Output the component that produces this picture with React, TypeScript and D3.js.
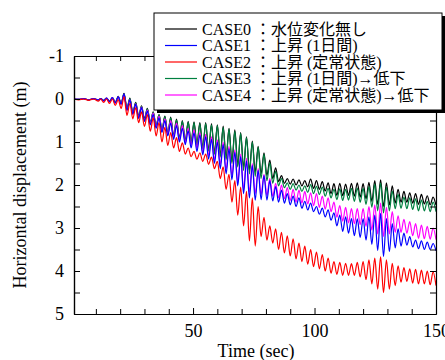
import { useEffect, useRef } from "react";
import * as d3 from "d3";

const W = 445;
const H = 360;
const box = { left: 74, right: 436, top: 56, bottom: 314 };

// extremes of the oscillation (sec), shared by all cases
const timeSec = [
  1, 3, 5, 7, 9, 11,
  12.0, 13.2, 14.4, 15.6, 16.8, 18.0, 19.2, 20.4, 21.6, 22.8,
  24.0, 25.2, 26.4, 27.6, 28.8, 30.0, 31.2, 32.4, 33.6, 34.8,
  36.0, 37.2, 38.4, 39.6, 40.8, 42.0, 43.2, 44.4, 45.6, 46.8,
  48.0, 49.2, 50.4, 51.6, 52.8, 54.0, 55.2, 56.4, 57.6, 58.8,
  60.0, 61.2, 62.4, 63.6, 64.8, 66.0, 67.2, 68.4, 69.6, 70.8,
  72.0, 73.2, 74.4, 75.6, 76.8, 78.0, 79.2, 80.4, 81.6, 82.8,
  84.0, 85.2, 86.4, 87.6, 88.8, 90.0, 91.2, 92.4, 93.6, 94.8,
  96.0, 97.2, 98.4, 99.6, 100.8, 102.0, 103.2, 104.4, 105.6, 106.8,
  108.0, 109.2, 110.4, 111.6, 112.8, 114.0, 115.2, 116.4, 117.6, 118.8,
  120.0, 121.2, 122.4, 123.6, 124.8, 126.0, 127.2, 128.4, 129.6, 130.8,
  132.0, 133.2, 134.4, 135.6, 136.8, 138.0, 139.2, 140.4, 141.6, 142.8,
  144.0, 145.2, 146.4, 147.6, 148.8, 150.0,
];

const case0 = [
  0, 0.01, -0.01, 0.02, -0.01, 0.02,
  -0.01, 0.03, -0.02, 0.05, -0.03, 0.08, -0.06, 0.1, -0.13, 0.22,
  -0.02, 0.32, 0.08, 0.4, 0.16, 0.46, 0.22, 0.55, 0.3, 0.62,
  0.36, 0.72, 0.4, 0.8, 0.42, 0.86, 0.47, 0.92, 0.5, 0.98,
  0.52, 1.02, 0.53, 1.07, 0.55, 1.14, 0.55, 1.2, 0.57, 1.26,
  0.6, 1.32, 0.63, 1.38, 0.68, 1.46, 0.72, 1.54, 0.78, 1.6,
  0.88, 1.66, 0.98, 1.7, 1.1, 1.74, 1.25, 1.78, 1.42, 1.85,
  1.6, 1.92, 1.78, 1.96, 1.85, 1.98, 1.86, 2.0, 1.88, 2.02,
  1.9, 2.04, 1.86, 2.08, 1.9, 2.1, 1.92, 2.14, 1.95, 2.2,
  1.97, 2.24, 1.96, 2.25, 1.98, 2.24, 1.96, 2.26, 1.95, 2.28,
  1.97, 2.32, 1.94, 2.38, 1.9, 2.45, 1.88, 2.5, 1.95, 2.46,
  2.02, 2.42, 2.1, 2.4, 2.15, 2.4, 2.18, 2.42, 2.2, 2.45,
  2.22, 2.44, 2.25, 2.46, 2.28, 2.47,
];

const case1 = [
  0, 0.01, -0.01, 0.02, -0.01, 0.02,
  -0.01, 0.04, -0.02, 0.06, -0.03, 0.09, -0.05, 0.12, -0.12, 0.26,
  0.02, 0.35, 0.12, 0.45, 0.2, 0.52, 0.28, 0.6, 0.36, 0.68,
  0.44, 0.78, 0.5, 0.86, 0.56, 0.94, 0.62, 1.0, 0.68, 1.06,
  0.74, 1.14, 0.79, 1.22, 0.84, 1.3, 0.88, 1.4, 0.94, 1.5,
  1.0, 1.62, 1.06, 1.74, 1.16, 1.88, 1.24, 2.02, 1.34, 2.2,
  1.44, 2.3, 1.55, 2.35, 1.66, 2.34, 1.78, 2.35, 1.9, 2.37,
  2.04, 2.4, 2.12, 2.42, 2.2, 2.46, 2.26, 2.5, 2.3, 2.54,
  2.38, 2.58, 2.42, 2.62, 2.5, 2.68, 2.54, 2.74, 2.58, 2.82,
  2.65, 2.95, 2.7, 3.08, 2.74, 3.12, 2.78, 3.18, 2.79, 3.22,
  2.78, 3.28, 2.74, 3.38, 2.7, 3.52, 2.66, 3.66, 2.78, 3.55,
  2.9, 3.46, 3.02, 3.42, 3.12, 3.4, 3.2, 3.44, 3.28, 3.48,
  3.3, 3.5, 3.33, 3.5, 3.36, 3.53,
];

const case2 = [
  0, 0.02, 0, 0.03, 0, 0.05,
  0.0, 0.08, 0.0, 0.1, 0.0, 0.15, 0.02, 0.22, -0.05, 0.38,
  0.1, 0.46, 0.2, 0.55, 0.3, 0.64, 0.36, 0.75, 0.44, 0.86,
  0.55, 1.0, 0.66, 1.08, 0.78, 1.14, 0.9, 1.22, 1.02, 1.28,
  1.14, 1.34, 1.22, 1.4, 1.25, 1.45, 1.28, 1.52, 1.35, 1.62,
  1.45, 1.85, 1.58, 2.1, 1.75, 2.4, 1.9, 2.7, 2.05, 2.95,
  2.15, 3.3, 2.3, 3.42, 2.5, 3.2, 2.75, 3.28, 2.95, 3.35,
  3.02, 3.5, 3.1, 3.58, 3.18, 3.65, 3.25, 3.72, 3.35, 3.78,
  3.42, 3.84, 3.5, 3.9, 3.56, 3.95, 3.62, 4.0, 3.7, 4.05,
  3.78, 4.08, 3.8, 4.1, 3.82, 4.1, 3.83, 4.1, 3.8, 4.14,
  3.78, 4.2, 3.74, 4.3, 3.7, 4.42, 3.67, 4.5, 3.74, 4.42,
  3.82, 4.34, 3.88, 4.26, 3.92, 4.24, 3.95, 4.28, 3.96, 4.3,
  3.98, 4.3, 4.0, 4.32, 4.02, 4.34,
];

const case3 = [
  0, 0.01, -0.01, 0.02, -0.01, 0.02,
  0.0, 0.04, -0.01, 0.05, -0.02, 0.08, -0.05, 0.11, -0.11, 0.23,
  -0.01, 0.33, 0.09, 0.41, 0.17, 0.48, 0.23, 0.56, 0.31, 0.64,
  0.37, 0.74, 0.41, 0.82, 0.44, 0.88, 0.49, 0.94, 0.52, 1.0,
  0.54, 1.04, 0.55, 1.09, 0.57, 1.16, 0.57, 1.22, 0.6, 1.29,
  0.62, 1.35, 0.66, 1.42, 0.7, 1.5, 0.75, 1.58, 0.8, 1.66,
  0.9, 1.74, 1.0, 1.8, 1.12, 1.85, 1.28, 1.9, 1.48, 1.96,
  1.68, 2.02, 1.85, 2.06, 1.95, 2.1, 1.97, 2.12, 2.0, 2.15,
  2.02, 2.17, 1.99, 2.2, 2.03, 2.22, 2.05, 2.26, 2.08, 2.3,
  2.1, 2.34, 2.09, 2.36, 2.1, 2.35, 2.08, 2.38, 2.07, 2.4,
  2.08, 2.45, 2.04, 2.52, 1.98, 2.6, 1.95, 2.65, 2.05, 2.6,
  2.14, 2.55, 2.22, 2.54, 2.28, 2.55, 2.3, 2.57, 2.32, 2.6,
  2.35, 2.6, 2.38, 2.62, 2.4, 2.62,
];

const case4 = [
  0, 0.01, -0.01, 0.02, -0.01, 0.02,
  -0.01, 0.05, -0.02, 0.06, -0.03, 0.1, -0.05, 0.13, -0.1, 0.27,
  0.02, 0.36, 0.11, 0.44, 0.19, 0.51, 0.26, 0.58, 0.33, 0.66,
  0.4, 0.75, 0.46, 0.83, 0.5, 0.9, 0.56, 0.96, 0.62, 1.02,
  0.68, 1.08, 0.72, 1.15, 0.78, 1.24, 0.82, 1.32, 0.88, 1.42,
  0.95, 1.52, 1.0, 1.64, 1.1, 1.78, 1.18, 1.94, 1.28, 2.1,
  1.38, 2.16, 1.5, 2.2, 1.62, 2.22, 1.75, 2.24, 1.85, 2.26,
  1.96, 2.3, 2.0, 2.32, 2.06, 2.36, 2.1, 2.4, 2.12, 2.42,
  2.15, 2.44, 2.18, 2.48, 2.2, 2.52, 2.26, 2.56, 2.3, 2.62,
  2.4, 2.75, 2.48, 2.84, 2.52, 2.88, 2.55, 2.9, 2.55, 2.92,
  2.55, 2.96, 2.5, 3.05, 2.46, 3.14, 2.42, 3.2, 2.52, 3.14,
  2.62, 3.1, 2.72, 3.1, 2.8, 3.12, 2.85, 3.18, 2.9, 3.24,
  2.93, 3.25, 2.96, 3.26, 3.0, 3.27,
];

const caseLabels = [
  "CASE0 ：水位変化無し",
  "CASE1 ：上昇 (1日間)",
  "CASE2 ：上昇 (定常状態)",
  "CASE3 ：上昇 (1日間)→低下",
  "CASE4 ：上昇 (定常状態)→低下",
];
const caseColors = ["#000000", "#0000ff", "#ff0000", "#008040", "#ff00ff"];
const caseValues = [case0, case1, case2, case3, case4];
const drawOrder = [0, 3, 4, 1, 2];

const xMajor = [50, 100, 150];
const xMinor = [10, 20, 30, 40, 60, 70, 80, 90, 110, 120, 130, 140];
const yMajor = [-1, 0, 1, 2, 3, 4, 5];
const yMinor = [-0.5, 0.5, 1.5, 2.5, 3.5, 4.5];

const serif = "Liberation Serif";
const legendFont = "Liberation Serif, Noto Sans CJK JP";

const App = () => {
  const axRef = useRef<SVGGElement>(null);

  const x = d3.scaleLinear().domain([1, 150]).range([box.left, box.right]);
  const y = d3.scaleLinear().domain([-1, 5]).range([box.top, box.bottom]);

  useEffect(() => {
    const g = d3.select(axRef.current);
    g.selectAll("*").remove();
    const all = [...xMajor, ...xMinor];
    const yAll = [...yMajor, ...yMinor];

    g.append("g")
      .attr("transform", `translate(0,${box.bottom})`)
      .call(d3.axisBottom(x).tickValues(xMajor).tickSize(-6).tickSizeOuter(0).tickPadding(10).tickFormat((d) => String(d)));
    g.append("g")
      .attr("transform", `translate(0,${box.bottom})`)
      .call(d3.axisBottom(x).tickValues(xMinor).tickSize(-5).tickSizeOuter(0).tickFormat(() => ""));
    g.append("g")
      .attr("transform", `translate(0,${box.top})`)
      .call(d3.axisTop(x).tickValues(all).tickSize(-5).tickSizeOuter(0).tickFormat(() => ""));
    g.append("g")
      .attr("transform", `translate(${box.left},0)`)
      .call(d3.axisLeft(y).tickValues(yMajor).tickSize(-6).tickSizeOuter(0).tickPadding(10).tickFormat((d) => String(d)));
    g.append("g")
      .attr("transform", `translate(${box.left},0)`)
      .call(d3.axisLeft(y).tickValues(yMinor).tickSize(-6).tickSizeOuter(0).tickFormat(() => ""));
    g.append("g")
      .attr("transform", `translate(${box.right},0)`)
      .call(d3.axisRight(y).tickValues(yAll).tickSize(-6).tickSizeOuter(0).tickFormat(() => ""));

    g.selectAll("path.domain").attr("stroke", "#000").attr("stroke-width", 1.2);
    g.selectAll(".tick line").attr("stroke", "#000").attr("stroke-width", 1);
    g.selectAll("g").attr("font-family", serif).attr("font-size", 18);
    g.selectAll(".tick text").attr("fill", "#000");
  }, []);

  const line = d3
    .line<number>()
    .x((_, i) => x(timeSec[i]))
    .y((d) => y(d))
    .curve(d3.curveMonotoneX);

  const legend = { x: 154, y: 13, w: 288, h: 97 };

  return (
    <svg width={W} height={H} style={{ position: "absolute", left: 0, top: 0, background: "#fff" }}>
      <defs>
        <clipPath id="plotClip">
          <rect x={box.left} y={box.top} width={box.right - box.left} height={box.bottom - box.top} />
        </clipPath>
      </defs>
      <g clipPath="url(#plotClip)">
        {drawOrder.map((k) => (
          <path key={k} d={line(caseValues[k]) ?? ""} fill="none" stroke={caseColors[k]} strokeWidth={1.2} />
        ))}
      </g>
      <g ref={axRef} />
      <text
        transform={`translate(22,${(box.top + box.bottom) / 2}) rotate(-90)`}
        textAnchor="middle"
        dominantBaseline="middle"
        fontFamily={serif}
        fontSize={18}
      >
        Horizontal displacement (m)
      </text>
      <text x={256} y={357} textAnchor="middle" fontFamily={serif} fontSize={18}>
        Time (sec)
      </text>
      <g>
        <rect x={legend.x + 3} y={legend.y + 3} width={legend.w} height={legend.h} fill="#000" />
        <rect x={legend.x} y={legend.y} width={legend.w} height={legend.h} fill="#fff" stroke="#000" strokeWidth={1} />
        {caseLabels.map((label, i) => {
          const cy = 29 + i * 16.5;
          return (
            <g key={label}>
              <line x1={165} x2={197} y1={cy} y2={cy} stroke={caseColors[i]} strokeWidth={1.2} />
              <text x={202} y={cy + 5.5} fontFamily={legendFont} fontSize={16} fill="#000">
                {label}
              </text>
            </g>
          );
        })}
      </g>
    </svg>
  );
};

export default App;
